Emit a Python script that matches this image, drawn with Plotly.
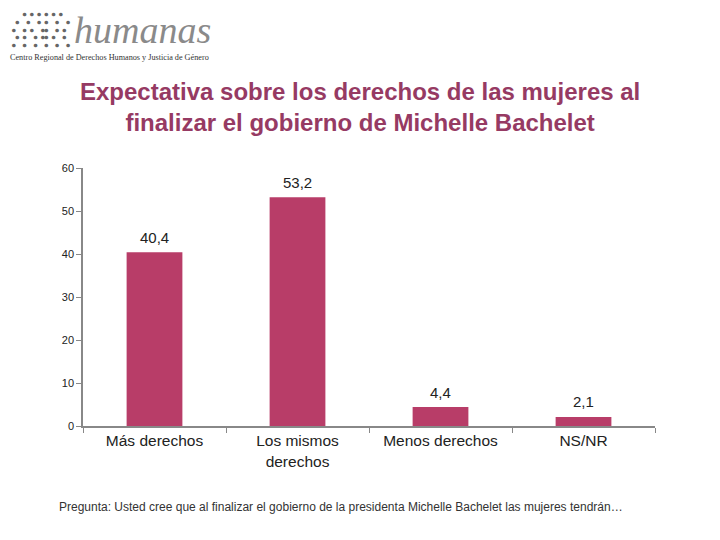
import plotly.graph_objects as go

categories = ["Más derechos", "Los mismos<br>derechos", "Menos derechos", "NS/NR"]
values = [40.4, 53.2, 4.4, 2.1]
value_labels = ["40,4", "53,2", "4,4", "2,1"]
y_ticks = [0, 10, 20, 30, 40, 50, 60]

title_lines = ["Expectativa sobre los derechos de las mujeres al",
               "finalizar el gobierno de Michelle Bachelet"]
footnote = "Pregunta: Usted cree que al finalizar el gobierno de la presidenta Michelle Bachelet las mujeres tendrán…"
logo_dots = ["   ● ● ● ● ● ●  ", " ●  ●  ● ●  ●  ●", "●  ● ●  ●●  ● ● ",
             " ● ●  ● ●● ●  ● ", "●  ●  ●  ●  ●  ●"]

BAR = "#b83d68"
TITLE = "#963a63"

# page body has an 8px default margin: the figure starts at (8, 8)
OFF = 8
W, H = 720 - OFF, 540 - OFF
L, R, T, B = 83 - OFF, 65, 168 - OFF, 114
plot_h = H - T - B
plot_w = W - L - R


def py(px):  # screen pixel y -> paper y
    return (540 - B - px) / plot_h


def pxx(px):  # screen pixel x -> paper x
    return (px - 83) / plot_w


fig = go.Figure()
fig.add_trace(go.Bar(x=categories, y=values, marker=dict(color=BAR, line=dict(width=0)),
                     width=0.39, hoverinfo="skip"))

for c, v, t in zip(categories, values, value_labels):
    fig.add_annotation(x=c, y=v, xref="x", yref="y", text=t, showarrow=False,
                       yanchor="middle", yshift=15,
                       font=dict(family="Liberation Sans, Arial", size=15, color="#222"))

fig.add_annotation(x=pxx(360), y=py(107), xref="paper", yref="paper",
                   text="<br>".join("<b>" + s + "</b>" for s in title_lines),
                   showarrow=False, xanchor="center", yanchor="middle",
                   font=dict(family="Liberation Sans, Arial", size=24, color=TITLE))

fig.add_annotation(x=pxx(57), y=py(507), xref="paper", yref="paper", text=footnote,
                   showarrow=False, xanchor="left", yanchor="middle",
                   font=dict(family="Liberation Sans, Arial", size=12, color="#333"))

# logo
fig.add_annotation(x=pxx(41), y=py(29), xref="paper", yref="paper",
                   text="<br>".join(s.replace(" ", "&nbsp;") for s in logo_dots),
                   showarrow=False, xanchor="center", yanchor="middle", align="left",
                   font=dict(family="DejaVu Sans Mono", size=6, color="#666"))
fig.add_annotation(x=pxx(72), y=py(30), xref="paper", yref="paper", text="<i>humanas</i>",
                   showarrow=False, xanchor="left", yanchor="middle",
                   font=dict(family="Liberation Serif, Times New Roman", size=38, color="#8a8a8a"))
fig.add_annotation(x=pxx(8), y=py(58), xref="paper", yref="paper",
                   text="Centro Regional de Derechos Humanos y Justicia de Género",
                   showarrow=False, xanchor="left", yanchor="middle",
                   font=dict(family="Liberation Serif, Times New Roman", size=8.2, color="#333"))

fig.update_layout(
    width=W, height=H,
    margin=dict(l=L, r=R, t=T, b=B),
    paper_bgcolor="white", plot_bgcolor="white",
    showlegend=False,
    font=dict(family="Liberation Sans, Arial", color="#222"),
)

fig.update_yaxes(range=[0, 60], tickvals=y_ticks, ticks="outside", ticklen=5,
                 tickcolor="#888", showline=True, linecolor="#888", linewidth=1.5,
                 showgrid=False, zeroline=False,
                 tickfont=dict(size=11, color="#222"), fixedrange=True)
fig.update_xaxes(tickson="boundaries", ticks="outside", ticklen=5, tickcolor="#888",
                 showline=True, linecolor="#888", linewidth=1.5, showgrid=False,
                 tickfont=dict(size=15.5, color="#222"), fixedrange=True)

fig.write_html("out.html")
